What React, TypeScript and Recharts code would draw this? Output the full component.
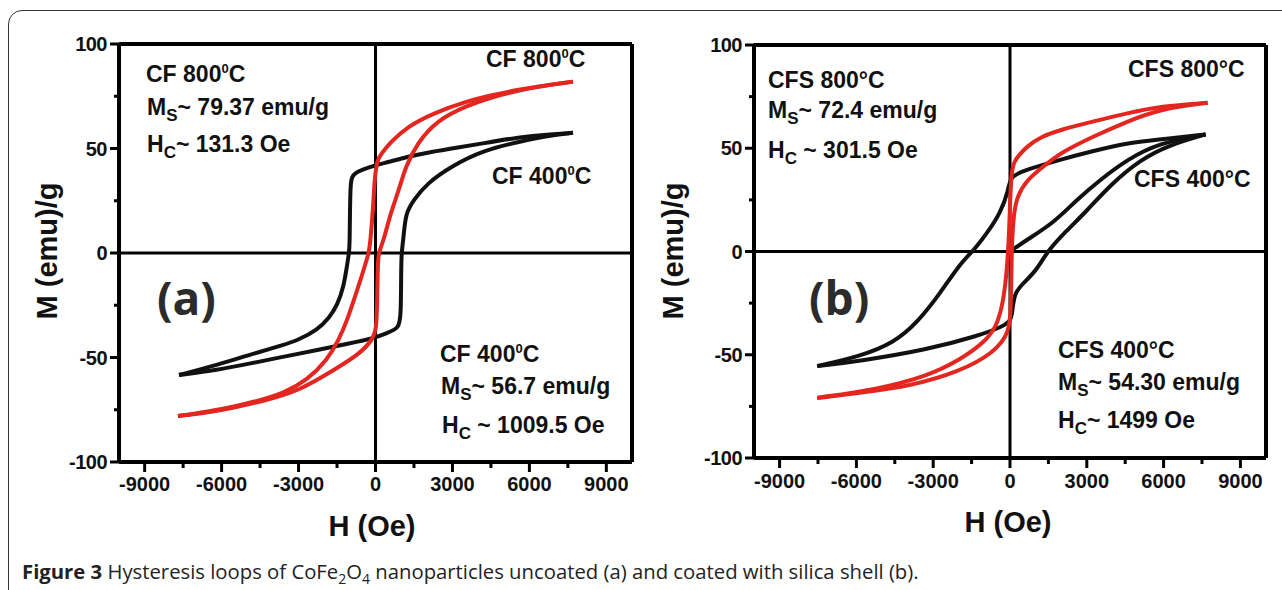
import { LineChart, Line, XAxis, YAxis, ReferenceLine } from 'recharts';

const H_TICKS = [-9000, -7500, -6000, -4500, -3000, -1500, 0, 1500, 3000, 4500, 6000, 7500, 9000];
const M_TICKS = [-100, -75, -50, -25, 0, 25, 50, 75, 100];

// (a) uncoated CoFe2O4 — [H (Oe), M (emu/g)] in measuring order
const CF400_DOWN = [
  [7700, 57.5], [6500, 56.5], [5650, 55.5], [4200, 52.5], [3000, 50], [2000, 48], [1230, 46], [500, 43.5],
  [0, 42], [-500, 40], [-800, 38.2], [-910, 36.5], [-975, 33.5], [-995, 20], [-1005, 9], [-1015, 1],
  [-1100, -5], [-1235, -16], [-1490, -25], [-1800, -31], [-2270, -36.8], [-3000, -41.5], [-3570, -44],
  [-4870, -48.5], [-6170, -53.6], [-7660, -58.4],
];
const CF400_UP = [
  [-7660, -58.4], [-6170, -56], [-4870, -52.8], [-3570, -49.6], [-2270, -46.4], [-974, -43.2], [-65, -40.8],
  [500, -38], [910, -36], [990, -30], [1000, -10], [1010, 0], [1100, 7.8], [1170, 19], [1490, 25.4],
  [2010, 33.3], [2920, 41.3], [4220, 49.3], [5650, 53.3], [6700, 56], [7700, 57.5],
];
const CF800_DOWN = [
  [7700, 82], [6800, 80.5], [5650, 78.3], [4500, 75.5], [3570, 72.6], [2270, 67], [1230, 60.4], [585, 53],
  [200, 47], [65, 44.5], [-40, 35], [-90, 22], [-195, 6.2], [-260, 0], [-390, -5], [-585, -13],
  [-845, -22.5], [-1100, -32], [-1430, -41.6], [-1880, -51.2], [-2660, -60.8], [-3570, -67],
  [-4500, -70.5], [-5500, -73.5], [-6600, -76], [-7700, -78],
];
const CF800_UP = [
  [-7700, -78], [-6600, -76.5], [-5500, -74], [-4220, -70.3], [-3000, -66], [-1620, -56], [-585, -48],
  [-130, -41.6], [40, -36.8], [65, -22.5], [90, -6.5], [110, 0], [325, 6.2], [585, 19], [910, 30],
  [1170, 41.3], [1620, 52.5], [2400, 63.6], [3570, 70.5], [4500, 74.5], [5650, 78], [6800, 80.5], [7700, 82],
];

// (b) silica coated
const CFS400_VIRGIN = [
  [0, 0], [670, 5.8], [1710, 13.9], [2620, 25.2], [3540, 34.9], [4580, 44.5], [5800, 52.5], [7640, 56.7],
];
const CFS400_DOWN = [
  [7640, 56.7], [5840, 54.2], [4580, 52.6], [3200, 48.5], [1970, 44.5], [670, 39.7], [0, 36.5], [-50, 30],
  [-370, 18.7], [-890, 9], [-1450, 0], [-1930, -5.5], [-2715, -20], [-3625, -34.5], [-4540, -44.2],
  [-5840, -50.7], [-7530, -55.5],
];
const CFS400_UP = [
  [-7530, -55.5], [-5840, -53], [-3230, -47.5], [-1280, -41], [-50, -35.4], [85, -31.3], [150, -20],
  [540, -15.2], [1060, -8.7], [1450, 0], [2200, 10], [2950, 19], [3930, 32.4], [5100, 44.6],
  [6270, 51.8], [7640, 56.7],
];
const CFS800_DOWN = [
  [7720, 72], [5880, 70.4], [4580, 67], [3270, 63], [1970, 59], [1200, 55.5], [670, 51], [300, 46],
  [150, 43], [50, 38], [0, 22], [-40, 8], [-80, 0], [-110, -7], [-240, -23], [-500, -36.2],
  [-1020, -44.2], [-1930, -52.3], [-3230, -60.4], [-5190, -66.8], [-7530, -70.8],
];
const CFS800_UP = [
  [-7530, -71], [-5840, -68.4], [-3890, -65.2], [-1930, -58], [-630, -49], [0, -39.4], [30, -25],
  [50, -15], [70, 0], [85, 5.8], [150, 18.7], [280, 26.8], [670, 34.9], [1320, 41.3], [1970, 47.8],
  [3270, 55.8], [4580, 63], [5880, 69], [7720, 72],
];

const RED = '#e3261f';
const INK = '#111';
const SANS = '"Liberation Sans", Arial, Helvetica, sans-serif';
const AXIS_BOX = 60; // room reserved for the y axis width / x axis height

const toPoints = (pairs: number[][]) => pairs.map(([h, m]) => ({ h, m }));

type Series = { id: string; pairs: number[][]; color: string };

function Panel({ width, margin, labelDrop, series }: {
  width: number;
  margin: { top: number; right: number; bottom: number; left: number };
  labelDrop: number;
  series: Series[];
}) {
  const xTick = (p: any) => {
    const major = p.payload.value % 3000 === 0;
    return (
      <g>
        <line x1={p.x} x2={p.x} y1={p.y} y2={p.y + (major ? 10 : 6)} stroke="#000" strokeWidth={3} />
        {major && (
          <text x={p.x} y={p.y + labelDrop} textAnchor="middle" fontFamily={SANS} fontWeight={700}
            fontSize={20} fill={INK}>{p.payload.value}</text>
        )}
      </g>
    );
  };
  const yTick = (p: any) => {
    const major = p.payload.value % 50 === 0;
    return (
      <g>
        <line x1={p.x - (major ? 9 : 5)} x2={p.x} y1={p.y} y2={p.y} stroke="#000" strokeWidth={3} />
        {major && (
          <text x={p.x - 12} y={p.y + 7} textAnchor="end" fontFamily={SANS} fontWeight={700}
            fontSize={20} letterSpacing={-0.5} fill={INK}>{p.payload.value}</text>
        )}
      </g>
    );
  };

  // plot box = margin + axis box on the left / bottom
  const m = { ...margin, left: margin.left - AXIS_BOX, bottom: margin.bottom - AXIS_BOX };

  return (
    <LineChart width={width} height={590} margin={m}>
      <XAxis type="number" dataKey="h" domain={[-10000, 10000]} ticks={H_TICKS} interval={0}
        height={AXIS_BOX} tickSize={0} tickMargin={0} tickLine={false}
        axisLine={{ stroke: '#000', strokeWidth: 4 }} tick={xTick} />
      <YAxis type="number" dataKey="m" domain={[-100, 100]} ticks={M_TICKS} interval={0}
        width={AXIS_BOX} tickSize={0} tickMargin={0} tickLine={false}
        axisLine={{ stroke: '#000', strokeWidth: 4 }} tick={yTick} />
      <ReferenceLine y={100} stroke="#000" strokeWidth={4} />
      <ReferenceLine x={10000} stroke="#000" strokeWidth={4} />
      <ReferenceLine y={0} stroke="#000" strokeWidth={3} />
      <ReferenceLine x={0} stroke="#000" strokeWidth={3} />
      {series.map((s) => (
        <Line key={s.id} data={toPoints(s.pairs)} dataKey="m" type="basis" stroke={s.color}
          strokeWidth={4} strokeLinejoin="round" dot={false} isAnimationActive={false} />
      ))}
    </LineChart>
  );
}

const noteStyle = { fontFamily: SANS, fontWeight: 700, fontSize: 23, fill: INK } as const;

function Ms({ x, y, text }: { x: number; y: number; text: string }) {
  return (
    <text x={x} y={y} style={noteStyle}>
      M<tspan fontSize={17} dy={6}>S</tspan><tspan dy={-6}>{text}</tspan>
    </text>
  );
}

function Hc({ x, y, text }: { x: number; y: number; text: string }) {
  return (
    <text x={x} y={y} style={noteStyle}>
      H<tspan fontSize={17} dy={6}>C</tspan><tspan dy={-6}>{text}</tspan>
    </text>
  );
}

function SupC({ x, y, name }: { x: number; y: number; name: string }) {
  return (
    <text x={x} y={y} style={noteStyle}>
      {name}<tspan fontSize={13} dy={-9}>0</tspan><tspan dy={9}>C</tspan>
    </text>
  );
}

export default function App() {
  return (
    <div style={{ position: 'relative', width: 1282, height: 590, overflow: 'hidden', background: '#fff' }}>
      <style>{'body{margin:0}'}</style>
      <div style={{
        position: 'absolute', left: 8, top: 10, width: 1320, height: 620,
        border: '1.5px solid #333', borderRadius: 14,
      }} />
      <div style={{ position: 'absolute', left: 0, top: 0 }}>
        <Panel width={640} margin={{ top: 44, right: 8, bottom: 128, left: 119 }} labelDrop={29}
          series={[
            { id: 'cf400-down', pairs: CF400_DOWN, color: INK },
            { id: 'cf400-up', pairs: CF400_UP, color: INK },
            { id: 'cf800-down', pairs: CF800_DOWN, color: RED },
            { id: 'cf800-up', pairs: CF800_UP, color: RED },
          ]} />
      </div>
      <div style={{ position: 'absolute', left: 640, top: 0 }}>
        <Panel width={642} margin={{ top: 45, right: 16, bottom: 132, left: 114 }} labelDrop={30}
          series={[
            { id: 'cfs400-virgin', pairs: CFS400_VIRGIN, color: INK },
            { id: 'cfs400-down', pairs: CFS400_DOWN, color: INK },
            { id: 'cfs400-up', pairs: CFS400_UP, color: INK },
            { id: 'cfs800-down', pairs: CFS800_DOWN, color: RED },
            { id: 'cfs800-up', pairs: CFS800_UP, color: RED },
          ]} />
      </div>

      <svg width={1282} height={590} style={{ position: 'absolute', left: 0, top: 0, pointerEvents: 'none' }}>
        {/* panel (a) */}
        <SupC x={146} y={82} name="CF 800" />
        <Ms x={147} y={115} text="~ 79.37 emu/g" />
        <Hc x={147} y={152} text="~ 131.3 Oe" />
        <SupC x={486} y={67} name="CF 800" />
        <SupC x={492} y={184} name="CF 400" />
        <SupC x={440} y={362} name="CF 400" />
        <Ms x={441} y={394} text="~ 56.7 emu/g" />
        <Hc x={442} y={433} text=" ~ 1009.5 Oe" />
        <text x={157} y={315} fontFamily='"Open Sans", sans-serif' fontWeight={700} fontSize={46} fill="#2b2b2b">(a)</text>
        <text x={372} y={536} textAnchor="middle" fontFamily={SANS} fontWeight={700} fontSize={29} fill={INK}>H (Oe)</text>
        <text x={57} y={251} transform="rotate(-90 57 251)" textAnchor="middle" fontFamily={SANS} fontWeight={700}
          fontSize={29} fill={INK}>M (emu)/g</text>

        {/* panel (b) */}
        <text x={768} y={88} style={noteStyle}>CFS 800°C</text>
        <Ms x={768} y={118} text="~ 72.4 emu/g" />
        <Hc x={768} y={158} text=" ~ 301.5 Oe" />
        <text x={1128} y={77} style={noteStyle}>CFS 800°C</text>
        <text x={1134} y={187} style={noteStyle}>CFS 400°C</text>
        <text x={1058} y={358} style={noteStyle}>CFS 400°C</text>
        <Ms x={1058} y={390} text="~ 54.30 emu/g" />
        <Hc x={1058} y={428} text="~ 1499 Oe" />
        <text x={809} y={315} fontFamily='"Open Sans", sans-serif' fontWeight={700} fontSize={46} fill="#2b2b2b">(b)</text>
        <text x={1008} y={532} textAnchor="middle" fontFamily={SANS} fontWeight={700} fontSize={29} fill={INK}>H (Oe)</text>
        <text x={683} y={251} transform="rotate(-90 683 251)" textAnchor="middle" fontFamily={SANS} fontWeight={700}
          fontSize={29} fill={INK}>M (emu)/g</text>

        {/* caption */}
        <text x={22} y={579} fontFamily='"Open Sans", sans-serif' fontSize={20.3} fill="#222">
          <tspan fontWeight={700}>Figure 3</tspan>
          <tspan>{' Hysteresis loops of CoFe'}</tspan>
          <tspan fontSize={14} dy={5}>2</tspan>
          <tspan dy={-5}>O</tspan>
          <tspan fontSize={14} dy={5}>4</tspan>
          <tspan dy={-5}>{' nanoparticles uncoated (a) and coated with silica shell (b).'}</tspan>
        </text>
      </svg>
    </div>
  );
}
